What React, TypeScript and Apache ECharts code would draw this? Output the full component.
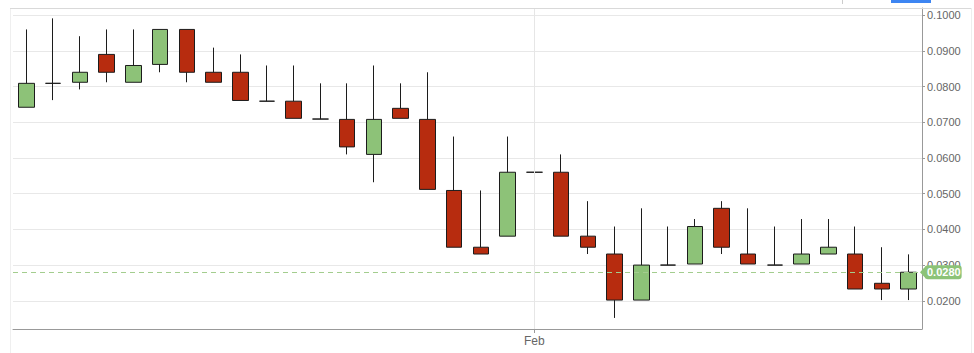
import React, { useEffect, useRef } from "react";
import * as echarts from "echarts";

const categories = [
  "Jan 13", "Jan 14", "Jan 15", "Jan 16", "Jan 17", "Jan 18", "Jan 19", "Jan 20",
  "Jan 21", "Jan 22", "Jan 23", "Jan 24", "Jan 25", "Jan 26", "Jan 27", "Jan 28",
  "Jan 29", "Jan 30", "Jan 31", "Feb 1", "Feb 2", "Feb 3", "Feb 4", "Feb 5",
  "Feb 6", "Feb 7", "Feb 8", "Feb 9", "Feb 10", "Feb 11", "Feb 12", "Feb 13",
  "Feb 14", "Feb 15",
];

const opens = [
  0.0742, 0.0809, 0.0812, 0.089, 0.0812, 0.0862, 0.096, 0.084, 0.084, 0.0759,
  0.0759, 0.0709, 0.0708, 0.061, 0.0739, 0.0708, 0.0509, 0.035, 0.0381, 0.056,
  0.056, 0.0381, 0.0331, 0.0202, 0.03, 0.0303, 0.0459, 0.0331, 0.03, 0.0303,
  0.0331, 0.0331, 0.0249, 0.0233,
];
const closes = [
  0.0809, 0.0809, 0.084, 0.084, 0.0859, 0.096, 0.084, 0.0812, 0.0761, 0.0759,
  0.0711, 0.0709, 0.0631, 0.0708, 0.0711, 0.0512, 0.035, 0.0331, 0.056, 0.056,
  0.0381, 0.035, 0.0202, 0.03, 0.03, 0.0408, 0.035, 0.0303, 0.03, 0.0331,
  0.035, 0.0233, 0.0233, 0.028,
];
const lows = [
  0.0742, 0.0762, 0.0792, 0.0812, 0.0812, 0.084, 0.0812, 0.0812, 0.0761, 0.0759,
  0.0711, 0.0709, 0.061, 0.0532, 0.0711, 0.0512, 0.035, 0.0331, 0.0381, 0.056,
  0.0381, 0.0331, 0.0152, 0.0202, 0.03, 0.0303, 0.0331, 0.0303, 0.03, 0.0303,
  0.0331, 0.0233, 0.0202, 0.0202,
];
const highs = [
  0.096, 0.0991, 0.0941, 0.096, 0.096, 0.096, 0.096, 0.0909, 0.089, 0.0859,
  0.0859, 0.0809, 0.0809, 0.0859, 0.0809, 0.084, 0.066, 0.0509, 0.066, 0.066,
  0.061, 0.0479, 0.0408, 0.0459, 0.0408, 0.0429, 0.0479, 0.0459, 0.0408, 0.0429,
  0.0429, 0.0408, 0.035, 0.033,
];

const lastPrice = 0.028;
const monthStartIndex = 19;
const yMin = 0.0121;
const yMax = 0.102;

const UP = "#8dc278";
const DOWN = "#b72c0f";
const EDGE = "#1c1c1c";
const TAG = "#8cc377";
const FONT = "'Liberation Sans', Arial, sans-serif";

export default function App() {
  const ref = useRef<HTMLDivElement>(null);

  useEffect(() => {
    if (!ref.current) return;
    const chart = echarts.init(ref.current, null, { renderer: "svg" });
    const ohlc = opens.map((o, i) => [o, closes[i], lows[i], highs[i]]);

    chart.setOption({
      animation: false,
      backgroundColor: "#ffffff",
      grid: { left: 13, right: 52, top: 8, bottom: 24, containLabel: false },
      xAxis: {
        type: "category",
        data: categories,
        boundaryGap: true,
        axisLine: { show: true, lineStyle: { color: "#999999", width: 1 } },
        axisTick: {
          show: true,
          alignWithLabel: true,
          length: 4,
          interval: (i: number) => i === monthStartIndex,
          lineStyle: { color: "#999999" },
        },
        axisLabel: {
          show: true,
          interval: (i: number) => i === monthStartIndex,
          formatter: (v: string) => v.split(" ")[0],
          color: "#666666",
          fontSize: 12,
          fontFamily: FONT,
          margin: 6,
        },
        splitLine: { show: false },
      },
      yAxis: {
        type: "value",
        position: "right",
        min: yMin,
        max: yMax,
        splitNumber: 9,
        scale: true,
        axisLine: { show: true, lineStyle: { color: "#999999", width: 1 } },
        axisTick: { show: true, length: 3, lineStyle: { color: "#999999" } },
        axisLabel: {
          show: true,
          showMinLabel: false,
          showMaxLabel: false,
          formatter: (v: number) => v.toFixed(4),
          color: "#666666",
          fontSize: 11,
          fontFamily: FONT,
          margin: 5,
        },
        splitLine: { show: true, lineStyle: { color: "#e8e8e8", width: 1 } },
      },
      series: [
        {
          type: "candlestick",
          data: ohlc,
          barWidth: 16,
          itemStyle: {
            color: UP,
            color0: DOWN,
            borderColor: EDGE,
            borderColor0: EDGE,
            borderColorDoji: EDGE,
            borderWidth: 1,
          },
          markLine: {
            silent: true,
            symbol: ["none", "none"],
            precision: 4,
            animation: false,
            data: [
              {
                xAxis: categories[monthStartIndex],
                lineStyle: { color: "#e6e6e6", type: "solid", width: 1 },
                label: { show: false },
              },
              {
                yAxis: lastPrice,
                lineStyle: { color: "#a3cd8e", type: [5, 4], width: 1 },
                label: {
                  show: true,
                  position: "end",
                  distance: 3,
                  formatter: () => lastPrice.toFixed(4),
                  color: "#ffffff",
                  fontWeight: "bold",
                  fontSize: 11,
                  fontFamily: FONT,
                  backgroundColor: TAG,
                  borderRadius: 3,
                  padding: [2, 1, 1, 2],
                },
              },
            ],
          },
        },
      ],
    });

    const py = chart.convertToPixel({ yAxisIndex: 0 }, lastPrice) as number;
    const axisX = 974 - 52;

    chart.setOption({
      graphic: [
        { type: "line", shape: { x1: 10, y1: 8.5, x2: 971, y2: 8.5 }, style: { stroke: "#d9d9d9", lineWidth: 1 }, silent: true, z: 100 },
        { type: "line", shape: { x1: 10.5, y1: 8, x2: 10.5, y2: 353 }, style: { stroke: "#efefef", lineWidth: 1 }, silent: true },
        { type: "line", shape: { x1: 971.5, y1: 8, x2: 971.5, y2: 353 }, style: { stroke: "#eeeeee", lineWidth: 1 }, silent: true },
        { type: "line", shape: { x1: 842.5, y1: 0, x2: 842.5, y2: 4 }, style: { stroke: "#cccccc", lineWidth: 1 }, silent: true },
        { type: "rect", shape: { x: 891, y: 0, width: 40, height: 3 }, style: { fill: "#3d85f2" }, silent: true },
        {
          type: "polygon",
          shape: { points: [[axisX - 2, py], [axisX + 4, py - 6.5], [axisX + 4, py + 6.5]] },
          style: { fill: TAG },
          silent: true,
          z: 50,
        },
      ],
    });

    return () => chart.dispose();
  }, []);

  return (
    <div
      ref={ref}
      style={{ position: "absolute", left: 0, top: 0, width: 974, height: 353, background: "#fff" }}
    />
  );
}
